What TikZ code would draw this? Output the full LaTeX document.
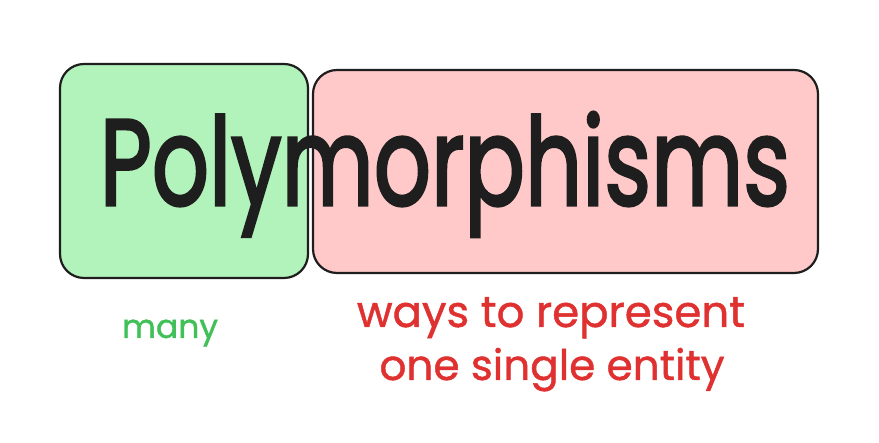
\documentclass[tikz,border=0pt]{standalone}
\usepackage{fontspec}
\usepackage{graphicx}
\setmainfont{Poppins}
\definecolor{greenfill}{HTML}{B2F2BB}
\definecolor{redfill}{HTML}{FFC9C9}
\definecolor{inkdark}{HTML}{1E1E1E}
\definecolor{greenink}{HTML}{40C057}
\definecolor{redink}{HTML}{E03131}
\begin{document}
\begin{tikzpicture}[x=1pt,y=1pt,
  wordbox/.style={draw=inkdark,line width=2.2pt,rounded corners=24pt},
  bigword/.style={inner sep=0pt,anchor=base,text=inkdark},
  note/.style={inner sep=0pt,anchor=base}]
\useasboundingbox (0,0) rectangle (879,443);
\fill[white] (0,0) rectangle (879,443);
\draw[wordbox,fill=greenfill] (60,165) rectangle (308,379);
\draw[wordbox,fill=redfill] (313,170) rectangle (818,373);
\node[bigword] (word) at (445,238) {\resizebox{690pt}{93pt}{\addfontfeature{FakeBold=2.5}Polymorphisms}};
\node[note,text=greenink] (many) at (170,105) {\resizebox{96pt}{!}{\addfontfeature{FakeBold=1}many}};
\node[note,text=redink] (ways) at (551,116) {\resizebox{388pt}{!}{\addfontfeature{FakeBold=1}ways to represent}};
\node[note,text=redink] (one) at (552,63) {\resizebox{345pt}{!}{\addfontfeature{FakeBold=1}one single entity}};
\end{tikzpicture}
\end{document}
